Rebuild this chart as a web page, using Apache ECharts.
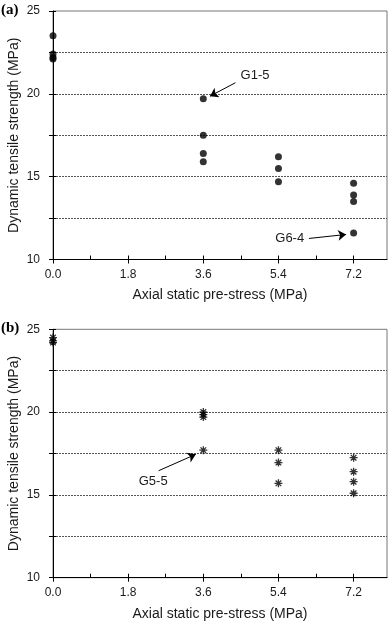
<!DOCTYPE html>
<html>
<head>
<meta charset="utf-8">
<script src="https://cdn.jsdelivr.net/npm/echarts@6/dist/echarts.min.js"></script>
<style>
  html, body { margin: 0; padding: 0; background: #fff; }
  #chart { width: 388px; height: 622px; }
</style>
</head>
<body>
<div id="chart"></div>
<script>
// axial static pre-stress levels (MPa)
const preStress = [0, 3.6, 5.4, 7.2];
// dynamic tensile strength (MPa) for each pre-stress level
const strengthA = [
    [23.5, 22.4, 22.2, 22.1],
    [19.7, 17.5, 16.4, 15.9],
    [16.2, 15.5, 14.7],
    [14.6, 13.9, 13.5, 11.6]
];
const strengthB = [
    [24.5, 24.3, 24.2],
    [20.0, 19.85, 19.7, 17.7],
    [17.7, 16.95, 15.7],
    [17.25, 16.4, 15.8, 15.1]
];
const xTickLabels = [0, 1.8, 3.6, 5.4, 7.2];
const xMinorTicks = [0.9, 2.7, 4.5, 6.3];
const yTickLabels = [10, 15, 20, 25];

// labelled specimens: text position, arrow start, arrow end (data units)
const notesA = [
    { text: 'G1-5', at: [4.84, 21.13], from: [4.37, 20.67], to: [3.76, 19.86] },
    { text: 'G6-4', at: [5.67, 11.27], from: [6.13, 11.27], to: [7.02, 11.51] }
];
const notesB = [
    { text: 'G5-5', at: [2.4, 15.8], from: [2.53, 16.46], to: [3.42, 17.45] }
];

const font = 'Liberation Sans, Arial, sans-serif';
const ink = '#1a1a1a';

function toPoints(groups) {
    const pts = [];
    groups.forEach((vals, i) => vals.forEach(v => pts.push([preStress[i], v])));
    return pts;
}

function xAxes(gridIndex) {
    return [
        {
            gridIndex,
            type: 'value',
            min: 0,
            max: 8.0,
            position: 'bottom',
            name: 'Axial static pre-stress (MPa)',
            nameLocation: 'middle',
            nameGap: 29,
            nameMoveOverlap: false,
            nameTextStyle: { color: ink, fontSize: 14, fontFamily: font },
            axisLine: { lineStyle: { color: '#000', width: 1 } },
            axisTick: { customValues: xTickLabels, length: 4, lineStyle: { color: '#000' } },
            axisLabel: {
                customValues: xTickLabels,
                color: ink,
                fontSize: 12,
                fontFamily: font,
                margin: 9,
                formatter: v => v.toFixed(1)
            },
            splitLine: { show: false }
        },
        {
            gridIndex,
            type: 'value',
            min: 0,
            max: 8.0,
            position: 'bottom',
            axisLine: { show: false },
            axisTick: {
                customValues: xTickLabels.concat(xMinorTicks),
                inside: true,
                length: 4,
                lineStyle: { color: '#000' }
            },
            axisLabel: { show: false },
            splitLine: { show: false }
        }
    ];
}

function yAxes(gridIndex) {
    return [
        {
            gridIndex,
            type: 'value',
            min: 10,
            max: 25,
            interval: 2.5,
            position: 'left',
            name: 'Dynamic tensile strength (MPa)',
            nameLocation: 'middle',
            nameRotate: 90,
            nameGap: 32,
            nameMoveOverlap: false,
            nameTextStyle: { color: ink, fontSize: 14, fontFamily: font },
            axisLine: { lineStyle: { color: '#000', width: 1 } },
            axisTick: { length: 4, lineStyle: { color: '#000' } },
            axisLabel: {
                customValues: yTickLabels,
                color: ink,
                fontSize: 12,
                fontFamily: font,
                margin: 13
            },
            splitLine: {
                show: true,
                showMinLine: false,
                showMaxLine: false,
                lineStyle: { color: '#555', type: [2, 1], width: 1 }
            }
        },
        {
            gridIndex,
            type: 'value',
            min: 10,
            max: 25,
            interval: 2.5,
            position: 'left',
            axisLine: { show: false },
            axisTick: { inside: true, length: 3, lineStyle: { color: '#000' } },
            axisLabel: { show: false },
            splitLine: { show: false }
        }
    ];
}

function annotations(notes) {
    return {
        markLine: {
            silent: true,
            symbol: ['none', 'arrow'],
            symbolSize: 8,
            lineStyle: { color: '#000', type: 'solid', width: 1 },
            label: { show: false },
            data: notes.map(n => [{ coord: n.from }, { coord: n.to }])
        },
        markPoint: {
            silent: true,
            symbol: 'circle',
            symbolSize: 0,
            label: {
                show: true,
                position: 'inside',
                color: ink,
                fontSize: 13,
                fontFamily: font,
                formatter: p => p.name
            },
            data: notes.map(n => ({ name: n.text, coord: n.at }))
        }
    };
}

const asterisk = 'path://M0,5L10,5M5,0L5,10M1.5,1.5L8.5,8.5M8.5,1.5L1.5,8.5';

const chart = echarts.init(document.getElementById('chart'), null, { renderer: 'canvas' });

const option = {
    backgroundColor: '#fff',
    animation: false,
    title: [
        {
            text: '(a)', left: 1, top: 3, padding: 0,
            textStyle: { fontFamily: 'Liberation Serif, serif', fontWeight: 'bold', fontSize: 15, color: '#000' }
        },
        {
            text: '(b)', left: 1, top: 321, padding: 0,
            textStyle: { fontFamily: 'Liberation Serif, serif', fontWeight: 'bold', fontSize: 15, color: '#000' }
        }
    ],
    grid: [
        { left: 53, top: 11, width: 334, height: 248.5, outerBoundsMode: 'none', containLabel: false, show: true, borderColor: '#777', borderWidth: 1, backgroundColor: 'transparent' },
        { left: 53, top: 329.3, width: 334, height: 248.4, outerBoundsMode: 'none', containLabel: false, show: true, borderColor: '#777', borderWidth: 1, backgroundColor: 'transparent' }
    ],
    xAxis: xAxes(0).concat(xAxes(1)),
    yAxis: yAxes(0).concat(yAxes(1)),
    series: [
        Object.assign({
            type: 'scatter',
            xAxisIndex: 0,
            yAxisIndex: 0,
            symbol: 'circle',
            symbolSize: 7,
            itemStyle: { color: '#000' },
            data: toPoints(strengthA)
        }, annotations(notesA)),
        Object.assign({
            type: 'scatter',
            xAxisIndex: 2,
            yAxisIndex: 2,
            symbol: asterisk,
            symbolSize: 8,
            itemStyle: { color: 'transparent', borderColor: '#000', borderWidth: 1.3 },
            data: toPoints(strengthB)
        }, annotations(notesB))
    ]
};

chart.setOption(option);
</script>
</body>
</html>
